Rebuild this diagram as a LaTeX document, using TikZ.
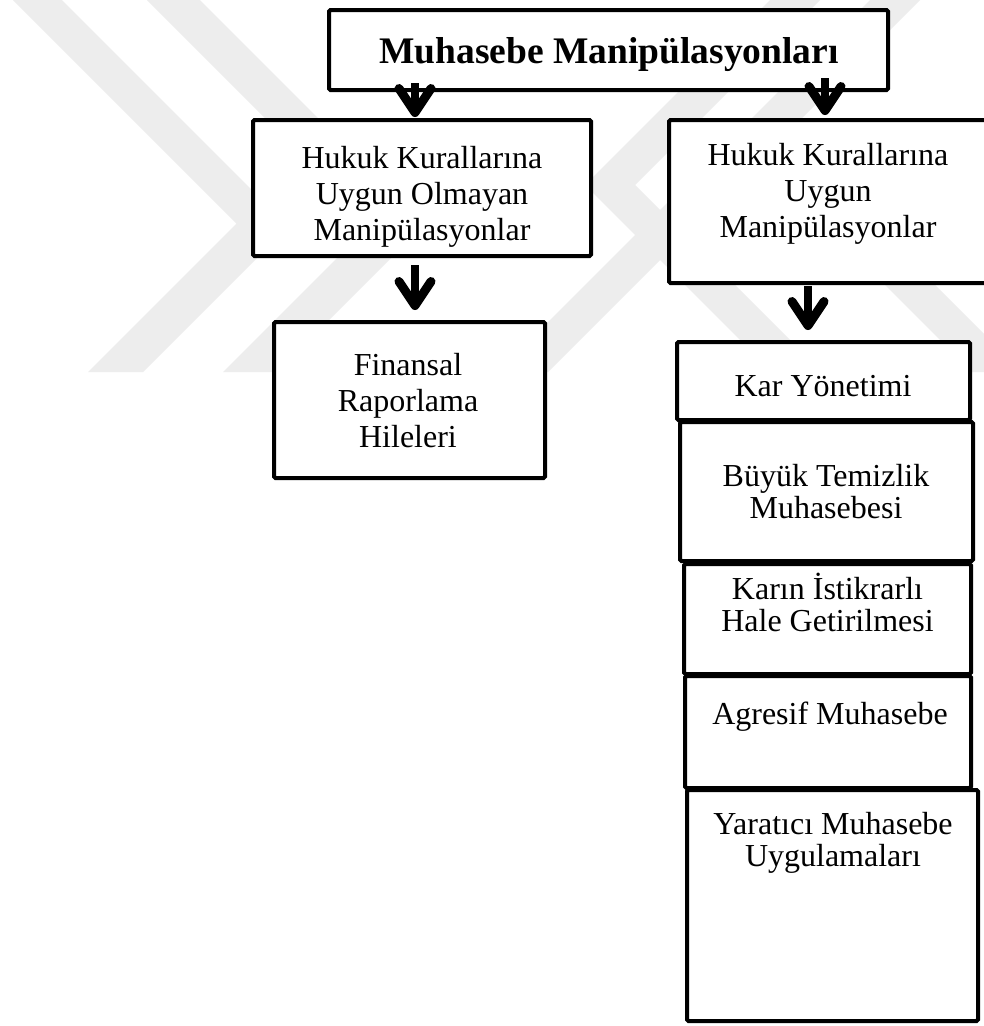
\documentclass[tikz,border=0pt]{standalone}
\usepackage{fontspec}
\setmainfont{Liberation Serif}
\usetikzlibrary{arrows.meta}
\definecolor{wm}{gray}{0.93}
\begin{document}
\begin{tikzpicture}[x=1pt,y=-1pt,
  box/.style={draw=black, line width=4pt, fill=white, rounded corners=1.5pt, inner sep=0pt, outer sep=0pt},
  txt/.style={align=center, anchor=base, inner sep=0pt, font=\fontsize{32}{36}\selectfont},
  txtb/.style={txt, font=\fontsize{32}{32}\selectfont},
  arr/.style={line width=8pt, -{Straight Barb[length=24pt,width=32pt,line width=9pt,round]}},
  ]
\useasboundingbox (0,0) rectangle (984,1026);
\fill[white] (0,0) rectangle (984,1026);
% watermark
\fill[wm] (13,0) -- (62,0) -- (288.5,226.5) -- (143,372) -- (88,372) -- (236.5,223.5) -- cycle;
\fill[wm] (147,0) -- (200,0) -- (424.5,224.5) -- (277,372) -- (223,372) -- (371,224) -- cycle;
\fill[wm] (870,0) -- (920,0) -- (548,372) -- (498,372) -- cycle;
\fill[wm] (735,135) -- (785,135) -- (1022,372) -- (972,372) -- cycle;
\fill[wm] (585,185) -- (770,0) -- (820,0) -- (635,185) -- (822,372) -- (772,372) -- cycle;
% boxes
\node[box, minimum width=559pt, minimum height=80pt] (title) at (608.5,50) {};
\node[txt, font=\fontsize{37.5}{40}\selectfont\bfseries] (titlet) at (609,63) {Muhasebe Manipülasyonları};
\node[box, minimum width=338pt, minimum height=136pt] (lbox) at (422,188) {};
\node[txt] (lboxt) at (422,240) {Hukuk Kurallarına\\Uygun Olmayan\\Manipülasyonlar};
\node[box, minimum width=321pt, minimum height=163pt] (rbox) at (829.5,201.5) {};
\node[txt] (rboxt) at (828,237) {Hukuk Kurallarına\\Uygun\\Manipülasyonlar};
\node[box, minimum width=271pt, minimum height=156pt] (fbox) at (409.5,400) {};
\node[txt] (fboxt) at (408,447) {Finansal\\Raporlama\\Hileleri};
\node[box, minimum width=293pt, minimum height=78pt] (kar) at (823.5,381) {};
\node[txt] (kart) at (823,396) {Kar Yönetimi};
\node[box, minimum width=293pt, minimum height=139pt] (buyuk) at (826.5,491.5) {};
\node[txtb] (buyukt) at (826,518) {Büyük Temizlik\\Muhasebesi};
\node[box, minimum width=287pt, minimum height=110pt] (karin) at (827.5,619) {};
\node[txtb] (karint) at (827.5,631) {Karın İstikrarlı\\Hale Getirilmesi};
\node[box, minimum width=286pt, minimum height=112pt] (agr) at (828,732) {};
\node[txtb] (agrt) at (830,724) {Agresif Muhasebe};
\node[box, minimum width=291pt, minimum height=231pt] (yar) at (832.5,905.5) {};
\node[txtb] (yart) at (833,866) {Yaratıcı Muhasebe\\Uygulamaları};
% arrows
\draw[arr] ([xshift=-193.5pt,yshift=7pt]title.south) -- ([xshift=-7pt,yshift=3pt]lbox.north);
\draw[arr] ([xshift=216.5pt,yshift=12pt]title.south) -- ([xshift=-4.5pt,yshift=5pt]rbox.north);
\draw[arr] ([xshift=-7pt,yshift=-9pt]lbox.south) -- ([xshift=5.5pt,yshift=12pt]fbox.north);
\draw[arr] ([xshift=-21.5pt,yshift=-3pt]rbox.south) -- ([xshift=-15.5pt,yshift=12pt]kar.north);
\end{tikzpicture}
\end{document}
